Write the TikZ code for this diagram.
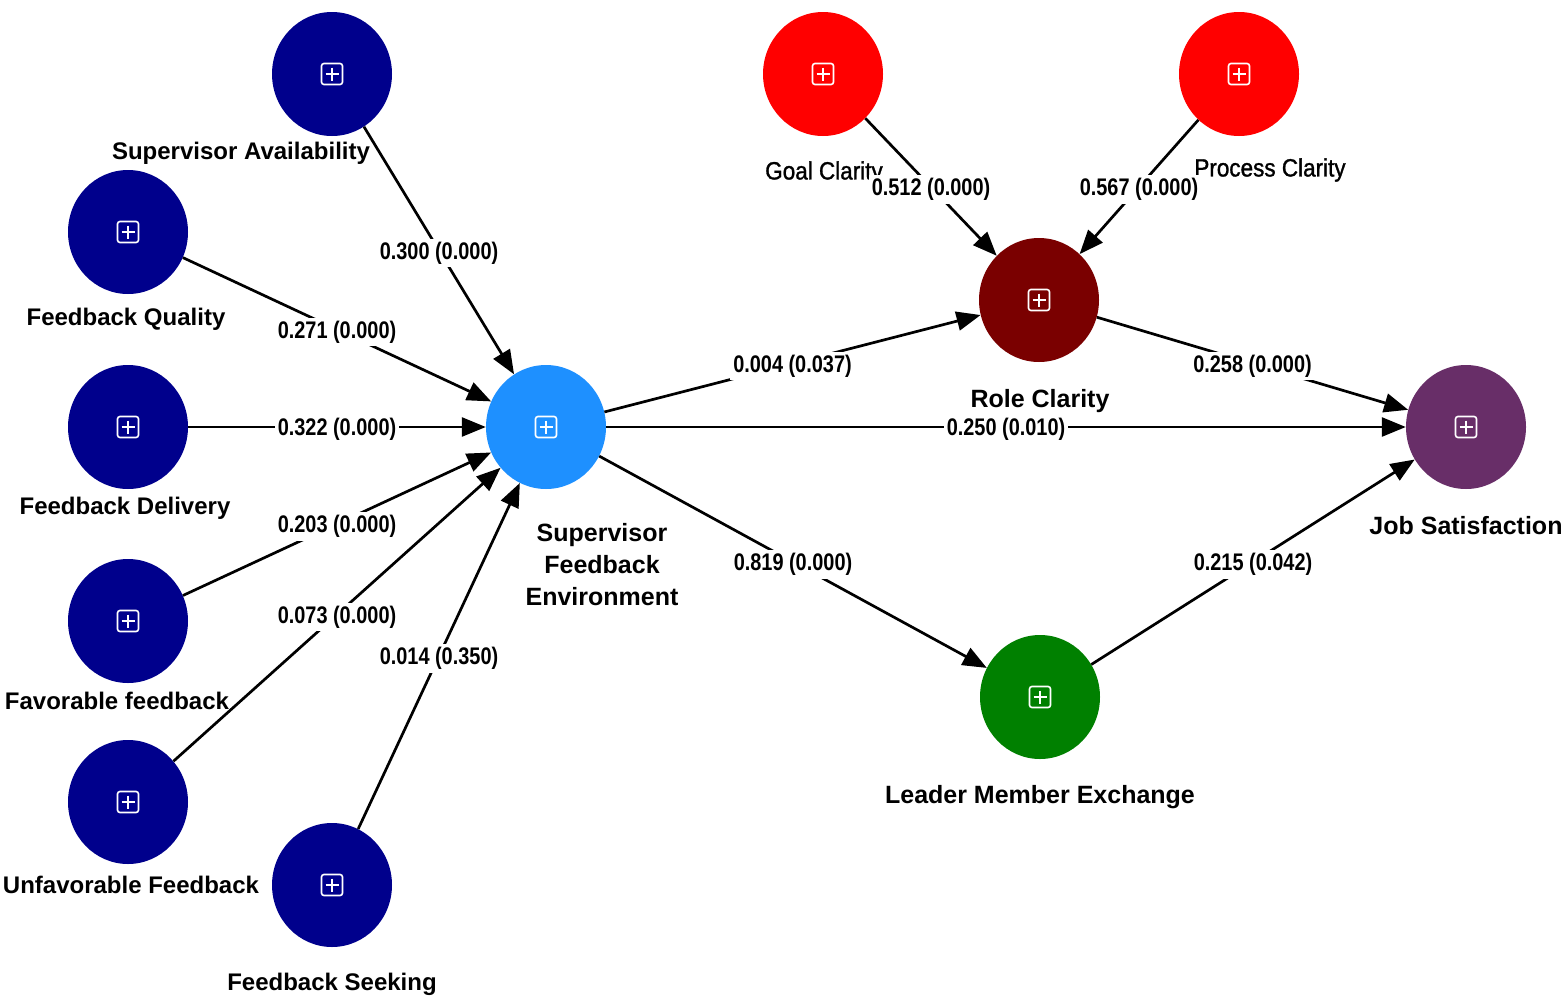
\documentclass[tikz,border=0pt]{standalone}
\usepackage{fontspec}
\setmainfont{Liberation Sans}
\newfontfamily\edgefont[FakeStretch=0.83]{Liberation Sans Bold}
\newfontfamily\narrowreg[FakeStretch=0.9,FakeBold=1.2]{Liberation Sans}
\usetikzlibrary{shapes.geometric,arrows.meta}
\definecolor{navyc}{RGB}{0,0,140}
\definecolor{sfec}{RGB}{30,144,255}
\definecolor{redc}{RGB}{255,0,0}
\definecolor{rcc}{RGB}{122,0,0}
\definecolor{jsc}{RGB}{104,46,104}
\definecolor{lmxc}{RGB}{0,128,0}
\tikzset{
  construct/.style={ellipse, minimum width=120pt, minimum height=124pt, inner sep=0pt, draw=none},
  nlabel/.style={font=\bfseries\fontsize{24}{30}\selectfont, inner sep=0pt, align=center, yshift=-2pt},
  rlabel/.style={font=\bfseries\fontsize{25}{32}\selectfont, inner sep=0pt, align=center, yshift=-2pt},
  glabel/.style={font=\narrowreg\fontsize{25}{30}\selectfont, inner sep=0pt, yshift=-2pt},
  elabel/.style={font=\edgefont\fontsize{24}{24}\selectfont, fill=white, inner sep=3pt, yshift=-2.5pt},
  conn/.style={line width=2.7pt, -{Triangle[length=24pt,width=19pt]}}
}
\begin{document}
\begin{tikzpicture}[x=1pt,y=-1pt]
\useasboundingbox (0,0) rectangle (1567,1001);
\fill[white] (0,0) rectangle (1567,1001);
% constructs
\node[construct, fill=navyc] (sa)  at (332,74)  {};
\node[construct, fill=navyc] (fq)  at (128,232) {};
\node[construct, fill=navyc] (fd)  at (128,427) {};
\node[construct, fill=navyc] (fav) at (128,621) {};
\node[construct, fill=navyc] (unf) at (128,802) {};
\node[construct, fill=navyc] (fs)  at (332,885) {};
\node[construct, fill=sfec]  (sfe) at (546,427) {};
\node[construct, fill=redc]  (gc)  at (823,74)  {};
\node[construct, fill=redc]  (pc)  at (1239,74) {};
\node[construct, fill=rcc]   (rc)  at (1039,300) {};
\node[construct, fill=jsc]   (js)  at (1466,427) {};
\node[construct, fill=lmxc]  (lmx) at (1040,697) {};
% icons
\foreach \n in {sa,fq,fd,fav,unf,fs,sfe,gc,pc,rc,js,lmx}{
  \begin{scope}[shift={(\n.center)}]
    \draw[white, line width=1.6pt, rounded corners=2.5pt] (-10.5,-10.5) rectangle (10.5,10.5);
    \draw[white, line width=1.6pt] (-6.5,0) -- (6.5,0) (0,-6.5) -- (0,6.5);
  \end{scope}
}
% labels
\node[nlabel] (saL)  at (241,151) {Supervisor Availability};
\node[nlabel] (fqL)  at (126,317) {Feedback Quality};
\node[nlabel] (fdL)  at (125,506) {Feedback Delivery};
\node[nlabel] (favL) at (117,699) {Favorable feedback};
\node[nlabel] (unfL) at (131,883) {Unfavorable Feedback};
\node[nlabel] (fsL)  at (332,982) {Feedback Seeking};
\node[rlabel] (sfeL) at (602,563) {Supervisor\\Feedback\\Environment};
\node[glabel] (gcL)  at (824,171) {Goal Clarity};
\node[glabel] (pcL)  at (1270,168) {Process Clarity};
\node[rlabel] (rcL)  at (1040,399) {Role Clarity};
\node[rlabel] (jsL)  at (1466,524) {Job Satisfaction};
\node[rlabel] (lmxL) at (1040,795) {Leader Member Exchange};
% connectors
\draw[conn] (sa)  -- node[elabel]{0.300 (0.000)} (sfe);
\draw[conn] (fq)  -- node[elabel]{0.271 (0.000)} (sfe);
\draw[conn] (fd)  -- node[elabel]{0.322 (0.000)} (sfe);
\draw[conn] (fav) -- node[elabel]{0.203 (0.000)} (sfe);
\draw[conn] (unf) -- node[elabel]{0.073 (0.000)} (sfe);
\draw[conn] (fs)  -- node[elabel]{0.014 (0.350)} (sfe);
\draw[conn] (gc)  -- node[elabel]{0.512 (0.000)} (rc);
\draw[conn] (pc)  -- node[elabel]{0.567 (0.000)} (rc);
\draw[conn] (sfe) -- node[elabel]{0.004 (0.037)} (rc);
\draw[conn] (sfe) -- node[elabel]{0.250 (0.010)} (js);
\draw[conn] (rc)  -- node[elabel]{0.258 (0.000)} (js);
\draw[conn] (sfe) -- node[elabel]{0.819 (0.000)} (lmx);
\draw[conn] (lmx) -- node[elabel]{0.215 (0.042)} (js);
\end{tikzpicture}
\end{document}
